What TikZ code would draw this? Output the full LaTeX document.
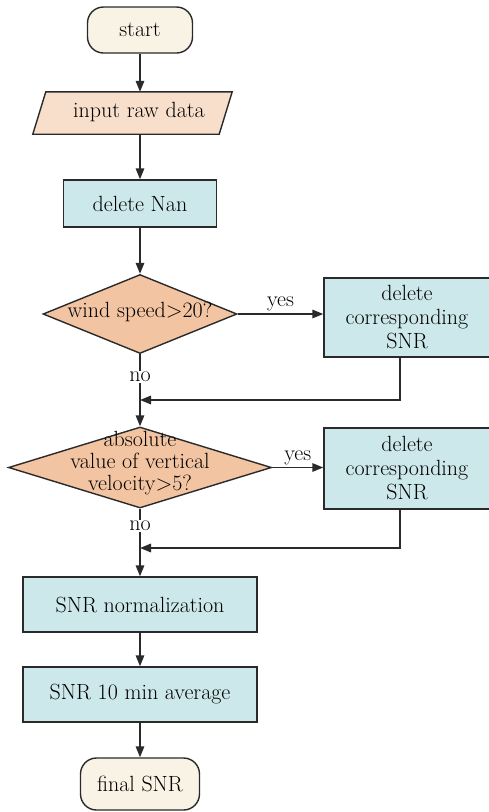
\documentclass[tikz,border=0pt]{standalone}
\usetikzlibrary{arrows.meta,shapes.geometric}
\definecolor{termfill}{HTML}{F8F3E4}
\definecolor{iofill}{HTML}{F7DFCC}
\definecolor{boxfill}{HTML}{CDE8EA}
\definecolor{decfill}{HTML}{F2C4A2}
\definecolor{ink}{HTML}{2A2A2A}
\begin{document}
\begin{tikzpicture}[x=1pt,y=-1pt,
  every node/.style={font=\fontsize{22}{24}\selectfont, text=black},
  outline/.style={draw=ink, line width=1.4pt},
  term/.style={outline, fill=termfill, rounded corners=16pt, inner sep=0pt},
  procbox/.style={outline, fill=boxfill, inner sep=0pt, align=center},
  decision/.style={outline, fill=decfill, diamond, inner sep=0pt},
  conn/.style={draw=ink, line width=1.6pt},
  arr/.style={conn, -{Triangle[length=11pt,width=8.5pt]}},
  lbl/.style={fill=white, inner sep=1pt}
]
\useasboundingbox[fill=white] (0,0) rectangle (488,812);

\node[term, minimum width=105pt, minimum height=46pt] (start) at (140,30) {start};
\node[inner sep=0pt, minimum width=186pt, minimum height=42pt] (inp) at (132.5,113) {};
\draw[outline, fill=iofill] ([xshift=-6.5pt]inp.south west) -- ([xshift=6.5pt]inp.north west)
  -- ([xshift=6.5pt]inp.north east) -- ([xshift=-6.5pt]inp.south east) -- cycle;
\node (inptext) at (139,112) {input raw data};
\node[procbox, minimum width=153pt, minimum height=47pt] (nan) at (140,203.5) {delete Nan};
\node[decision, minimum width=194pt, minimum height=79pt] (d1) at (140,314) {};
\node (d1text) at (140,312) {wind speed>20?};
\node[procbox, minimum width=166pt, minimum height=79pt] (del1) at (407,317.5) {delete\\corresponding\\SNR};
\node[decision, minimum width=263pt, minimum height=81pt] (d2) at (140,467.5) {};
\node[align=center, font=\fontsize{22}{22}\selectfont] (d2text) at (140,463) {absolute\\value of vertical\\velocity>5?};
\node[procbox, minimum width=166pt, minimum height=81pt] (del2) at (407,468.5) {delete\\corresponding\\SNR};
\node[procbox, minimum width=234pt, minimum height=55pt] (norm) at (140,604.5) {SNR normalization};
\node[procbox, minimum width=234pt, minimum height=55pt] (avg) at (140,694.5) {SNR 10 min average};
\node[term, minimum width=119pt, minimum height=52pt] (final) at (140,784) {final SNR};

\coordinate (m1) at (140,400);
\coordinate (m2) at (140,548);

\draw[arr] (start.south) -- (start.south |- inp.north);
\draw[arr] (nan.north |- inp.south) -- (nan.north);
\draw[arr] (nan.south) -- (d1.north);
\draw[arr] (d1.east) -- node[above=1pt, inner sep=1pt] (yes1) {yes} (d1.east -| del1.west);
\draw[conn] (d1.south) -- (m1);
\node[lbl] (no1) at (140,377) {no};
\draw[arr] ([xshift=-7pt]del1.south) |- (m1);
\draw[arr] (m1) -- (d2.north);
\draw[arr] (d2.east) -- node[above=1pt, inner sep=1pt] (yes2) {yes} (d2.east -| del2.west);
\draw[conn] (d2.south) -- (m2);
\node[lbl] (no2) at (140,526) {no};
\draw[arr] ([xshift=-7pt]del2.south) |- (m2);
\draw[arr] (m2) -- (norm.north);
\draw[arr] (norm.south) -- (avg.north);
\draw[arr] (avg.south) -- (final.north);
\end{tikzpicture}
\end{document}
